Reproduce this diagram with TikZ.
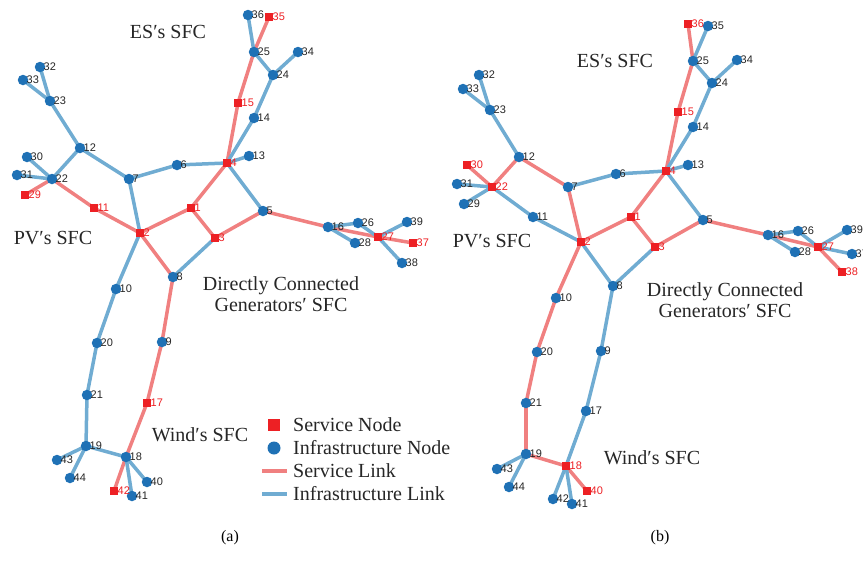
\documentclass[tikz,border=0pt]{standalone}
\usepackage{fontspec}
\setmainfont{Liberation Serif}
\newfontfamily\numfont{Liberation Sans}
\definecolor{slinkc}{RGB}{240,128,128}
\definecolor{ilinkc}{RGB}{112,172,210}
\definecolor{inodec}{RGB}{31,113,181}
\definecolor{snodec}{RGB}{237,32,36}

\begin{document}
\begin{tikzpicture}[x=1pt,y=-1pt,
  slink/.style={draw=slinkc,line width=3.5pt},
  ilink/.style={draw=ilinkc,line width=3.5pt},
  inode/.style={circle,fill=inodec,inner sep=0pt,minimum size=10.5pt},
  snode/.style={rectangle,fill=snodec,inner sep=0pt,minimum size=8.5pt},
  ilbl/.style={font=\numfont\fontsize{11}{11}\selectfont,text=black!85,inner sep=0pt},
  slbl/.style={ilbl,text=snodec},
  sfc/.style={font=\fontsize{20}{21}\selectfont,align=center,text=black!85},
  leg/.style={font=\fontsize{20}{21}\selectfont,anchor=west,inner sep=0pt,text=black!85}]
\useasboundingbox (0,0) rectangle (863,573);

\foreach\n/\x/\y in {1/191/208,2/140/233,3/215/238,4/227/163,5/263/211,6/177/165,7/129/179,8/173/277,
  9/162/342,10/116/289,11/94/208,12/80/148,13/249/156,14/254/118,15/238/103,16/328/227,17/147/403,
  18/126/457,19/86/446,20/97/343,21/87/395,22/52/179,23/50/101,24/273/75,25/254/52,26/358/223,
  27/378/237,28/355/243,29/25/195,30/27/157,31/17/175,32/40/67,33/23/80,34/298/52,35/269/17,
  36/248/15,37/413/243,38/402/263,39/407/222,40/147/482,41/132/496,42/114/491,43/57/460,44/70/478}
  \coordinate (a\n) at (\x,\y);
\foreach\u/\v in {35/25,25/15,15/4,4/1,1/2,1/3,3/5,5/16,16/27,27/37,2/11,11/22,22/29,2/8,8/9,9/17,17/18,18/42}
  \draw[slink] (a\u)--(a\v);
\foreach\u/\v in {36/25,25/24,24/34,24/14,14/4,4/13,4/6,6/7,7/12,12/23,23/32,23/33,12/22,22/30,22/31,7/2,
  4/5,3/8,2/10,10/20,20/21,21/19,19/43,19/44,19/18,18/41,18/40,16/26,16/28,26/27,27/38,27/39}
  \draw[ilink] (a\u)--(a\v);
\foreach\n in {5,6,7,8,9,10,12,13,14,16,18,19,20,21,22,23,24,25,26,28,30,31,32,33,34,36,38,39,40,41,43,44}
  \node[inode,label={[ilbl,label distance=-2pt]right:\n}] (na\n) at (a\n) {};
\foreach\n in {1,2,3,4,11,15,17,27,29,35,37,42}
  \node[snode,label={[slbl,label distance=-1pt]right:\n}] (na\n) at (a\n) {};

\foreach\n/\x/\y in {1/631/217,2/581/242,3/655/247,4/666/171,5/703/220,6/616/174,7/568/187,8/613/286,
  9/601/351,10/556/298,11/533/217,12/519/157,13/688/165,14/693/127,15/678/112,16/768/235,17/586/411,
  18/566/466,19/526/454,20/537/352,21/526/403,22/492/187,23/490/110,24/712/83,25/693/61,26/798/231,
  27/818/247,28/795/252,29/464/204,30/467/165,31/457/184,32/479/75,33/463/89,34/737/60,35/708/26,
  36/688/24,37/852/254,38/842/272,39/847/230,40/587/491,41/572/504,42/553/499,43/497/469,44/509/487}
  \coordinate (b\n) at (\x,\y);
\foreach\u/\v in {36/25,25/15,15/4,4/1,1/2,1/3,3/5,5/16,16/27,27/38,22/30,22/12,12/7,7/2,2/10,10/20,
  20/21,21/19,19/18,18/40}
  \draw[slink] (b\u)--(b\v);
\foreach\u/\v in {35/25,25/24,24/34,24/14,14/4,4/13,4/6,6/7,12/23,23/32,23/33,22/31,22/29,22/11,11/2,
  4/5,2/8,8/3,8/9,9/17,17/18,18/42,18/41,19/43,19/44,16/26,16/28,26/27,27/39,27/37}
  \draw[ilink] (b\u)--(b\v);
\foreach\n in {5,6,7,8,9,10,11,12,13,14,16,17,19,20,21,23,24,25,26,28,29,31,32,33,34,35,37,39,41,42,43,44}
  \node[inode,label={[ilbl,label distance=-2pt]right:\n}] (nb\n) at (b\n) {};
\foreach\n in {1,2,3,4,15,18,22,27,30,36,38,40}
  \node[snode,label={[slbl,label distance=-1pt]right:\n}] (nb\n) at (b\n) {};

\node[sfc] (esa) at (168,32) {ES′s SFC};
\node[sfc] (pva) at (53,238) {PV′s SFC};
\node[sfc] (dcga) at (281,294) {Directly Connected\\Generators′ SFC};
\node[sfc] (winda) at (200,435) {Wind′s SFC};
\node[sfc] (esb) at (615,61) {ES′s SFC};
\node[sfc] (pvb) at (492,241) {PV′s SFC};
\node[sfc] (dcgb) at (725,300) {Directly Connected\\Generators′ SFC};
\node[sfc] (windb) at (652,458) {Wind′s SFC};

\node[snode,minimum size=12pt] (legs) at (274,425) {};
\node[leg] (legst) at (293,425) {Service Node};
\node[inode,minimum size=13pt] (legi) at (274,448) {};
\node[leg] (legit) at (293,448) {Infrastructure Node};
\coordinate (legsl1) at (262,471);
\coordinate (legsl2) at (287,471);
\draw[slink] (legsl1)--(legsl2);
\node[leg] (legslt) at (293,471) {Service Link};
\coordinate (legil1) at (262,494);
\coordinate (legil2) at (287,494);
\draw[ilink] (legil1)--(legil2);
\node[leg] (legilt) at (293,494) {Infrastructure Link};

\node[font=\fontsize{16}{16}\selectfont] (capa) at (230,538) {(a)};
\node[font=\fontsize{16}{16}\selectfont] (capb) at (660,538) {(b)};
\end{tikzpicture}
\end{document}
